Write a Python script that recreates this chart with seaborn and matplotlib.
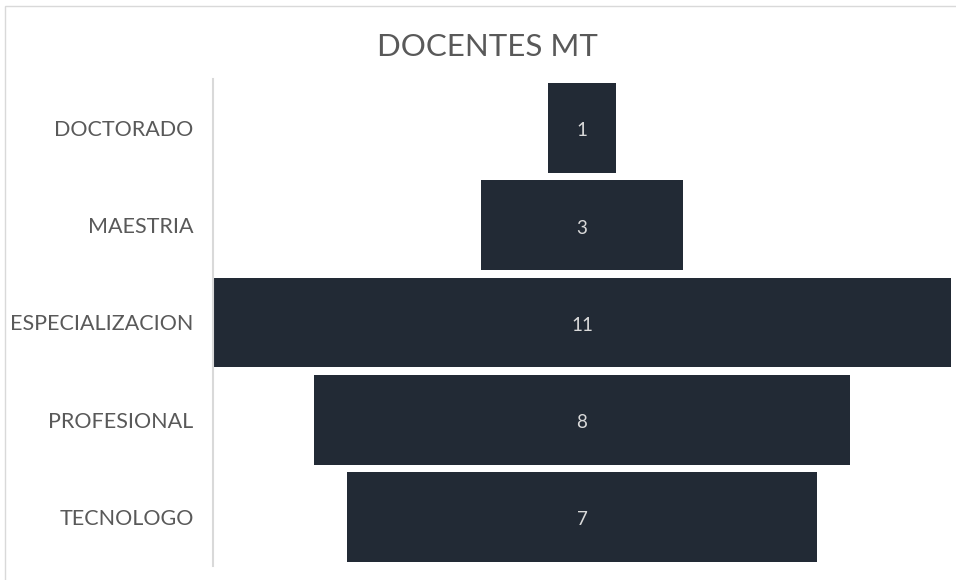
import numpy as np
import pandas as pd
import matplotlib.pyplot as plt
from matplotlib.patches import Rectangle
import seaborn as sns

# data
niveles = ["DOCTORADO", "MAESTRIA", "ESPECIALIZACION", "PROFESIONAL", "TECNOLOGO"]
docentes = [1, 3, 11, 8, 7]

bar_color = "#222a35"
label_color = "#595959"

sns.set_theme(style="white")
plt.rcParams["font.family"] = ["Lato", "DejaVu Sans"]

df = pd.DataFrame({"nivel": niveles, "docentes": docentes})
df["mitad"] = df["docentes"] / 2
df["mitad_neg"] = -df["docentes"] / 2

fig = plt.figure(figsize=(9.56, 5.8), dpi=100)
ax = fig.add_axes([213 / 956, 1 - 565.6 / 580, 738 / 956, (565.6 - 79.4) / 580])

# funnel: two halves mirrored around zero
sns.barplot(data=df, x="mitad", y="nivel", color=bar_color, width=0.925,
            saturation=1, linewidth=0, ax=ax)
sns.barplot(data=df, x="mitad_neg", y="nivel", color=bar_color, width=0.925,
            saturation=1, linewidth=0, ax=ax)

for i, v in enumerate(df["docentes"]):
    ax.text(0, i + 0.03, str(v), ha="center", va="center", color="#d9d9d9", fontsize=13.5)

mx = max(docentes) / 2
ax.set_xlim(-mx, mx)
ax.set_ylim(4.5, -0.5)
ax.set_xlabel("")
ax.set_ylabel("")
ax.set_xticks([])
ax.tick_params(axis="y", length=0, pad=14, labelsize=15.5, labelcolor=label_color)
for lbl in ax.get_yticklabels():
    lbl.set_y(lbl.get_position()[1])
    lbl.set_va("center_baseline")

for s in ["top", "right", "bottom"]:
    ax.spines[s].set_visible(False)
ax.spines["left"].set_color("#d9d9d9")
ax.spines["left"].set_linewidth(1.5)

fig.text(0.51, 1 - 47 / 580, "DOCENTES MT", ha="center", va="center",
         fontsize=22.5, color=label_color)

# chart border (partly cropped)
fig.patches.append(Rectangle((5 / 956, -0.1), 1.2, 1 - 6 / 580 + 0.1,
                             transform=fig.transFigure, fill=False,
                             edgecolor="#d9d9d9", linewidth=1))

fig.savefig("out.png", dpi=100)
